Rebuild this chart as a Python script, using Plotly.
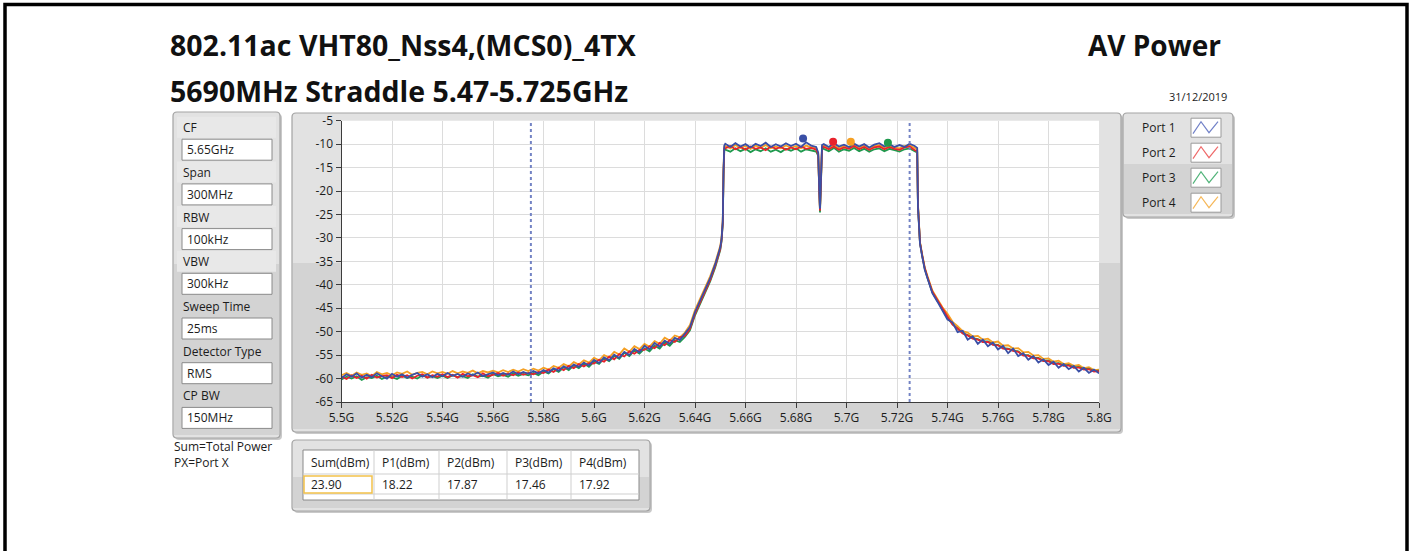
import plotly.graph_objects as go

# ------------------------------------------------------------------
#   Spectrum data (MHz / dBm)
# ------------------------------------------------------------------
freq_mhz = [
    # left floor
    5500, 5502, 5504, 5506, 5508, 5510, 5512, 5514, 5516, 5518,
    5520, 5522, 5524, 5526, 5528, 5530, 5532, 5534, 5536, 5538,
    5540, 5542, 5544, 5546, 5548, 5550, 5552, 5554, 5556, 5558,
    5560, 5562, 5564, 5566, 5568, 5570, 5572, 5574, 5576, 5578,
    5580, 5582, 5584, 5586, 5588, 5590, 5592, 5594, 5596, 5598,
    5600, 5602, 5604, 5606, 5608, 5610, 5612, 5614, 5616, 5618,
    5620, 5622, 5624, 5626, 5628, 5630, 5632, 5634, 5636,
    # rising edge
    5638, 5640, 5642, 5644, 5646, 5648, 5649, 5650, 5650.5, 5651.0, 5651.3, 5651.6,
    # top, lower half
    5652, 5654, 5656, 5658, 5660, 5662, 5664, 5666, 5668, 5670,
    5672, 5674, 5676, 5678, 5680, 5682, 5684, 5686, 5688,
    # notch
    5688.8, 5689.2, 5689.5, 5689.8, 5690.3,
    # top, upper half
    5691, 5693, 5695, 5697, 5699, 5701, 5703, 5705, 5707, 5709,
    5711, 5713, 5715, 5717, 5719, 5721, 5723, 5725, 5727,
    # falling edge
    5728.0, 5728.3, 5728.7, 5729.1, 5730, 5731, 5732, 5734, 5736, 5738,
    # right floor
    5740, 5742, 5744, 5746, 5748, 5750, 5752, 5754, 5756, 5758,
    5760, 5762, 5764, 5766, 5768, 5770, 5772, 5774, 5776, 5778,
    5780, 5782, 5784, 5786, 5788, 5790, 5792, 5794, 5796, 5798, 5800,
]

port1_dbm = [
    -59.9, -59.1, -59.6, -58.9, -59.8, -59.2, -59.7, -58.9, -59.5, -60.0,
    -59.0, -59.6, -59.1, -59.8, -59.2, -58.8, -59.6, -59.1, -59.7, -59.0,
    -59.5, -58.8, -59.4, -59.0, -59.6, -58.9, -59.3, -58.7, -59.5, -59.1,
    -58.7, -59.3, -58.8, -59.2, -58.5, -59.1, -58.6, -59.0, -58.4, -58.9,
    -58.2, -58.7, -57.8, -58.3, -57.4, -57.9, -57.0, -57.5, -56.6, -57.2,
    -56.0, -56.7, -55.5, -56.1, -54.9, -55.6, -54.3, -55.0, -53.7, -54.4,
    -53.0, -53.8, -52.4, -53.2, -51.9, -52.6, -51.3, -51.8, -50.5,
    -49.0, -45.8, -43.4, -41.0, -38.6, -35.6, -34.0, -32.0, -30.3, -26.5, -15.5, -10.3,
    -9.9, -10.6, -9.8, -10.5, -10.0, -10.7, -9.9, -10.4, -9.7, -10.6,
    -10.0, -10.5, -9.8, -10.4, -9.9, -10.6, -9.6, -10.3, -10.6,
    -11.8, -19.5, -23.8, -19.0, -10.2,
    -10.0, -10.6, -9.8, -10.5, -10.1, -10.6, -9.9, -10.5, -10.0, -10.7,
    -10.1, -9.8, -10.5, -10.0, -10.6, -10.2, -10.6, -9.9, -10.4,
    -10.8, -23.4, -28.3, -31.2, -34.0, -36.8, -38.5, -41.8, -43.6, -45.4,
    -47.4, -48.0, -50.1, -49.8, -51.7, -51.0, -52.6, -51.7, -53.1, -52.3,
    -53.8, -53.0, -54.6, -53.6, -55.2, -54.6, -56.0, -55.2, -56.6, -55.9,
    -57.1, -56.4, -57.7, -56.9, -58.0, -57.3, -58.5, -57.7, -58.8, -58.1, -58.9,
]

port2_dbm = [
    -59.6, -60.1, -59.3, -59.9, -59.4, -60.0, -59.2, -59.8, -59.5, -59.3,
    -59.9, -59.2, -59.7, -59.3, -60.0, -59.4, -59.1, -59.8, -59.3, -59.6,
    -59.1, -59.7, -59.2, -59.8, -59.0, -59.5, -59.3, -59.7, -58.9, -59.5,
    -59.2, -58.8, -59.4, -58.9, -59.3, -58.7, -59.2, -58.8, -59.1, -58.6,
    -58.8, -58.1, -58.6, -57.7, -58.2, -57.3, -57.8, -56.9, -57.4, -56.7,
    -56.8, -56.0, -56.4, -55.3, -55.9, -54.8, -55.3, -54.2, -54.7, -53.9,
    -53.9, -53.1, -53.5, -52.4, -52.9, -51.8, -52.2, -51.2, -50.9,
    -49.4, -46.2, -43.8, -41.4, -39.0, -36.0, -34.4, -32.4, -30.6, -26.8, -16.0, -10.9,
    -10.9, -10.4, -11.1, -10.6, -11.2, -10.5, -11.0, -10.7, -11.3, -10.5,
    -11.0, -10.6, -11.2, -10.7, -11.1, -10.5, -11.0, -10.8, -11.2,
    -12.2, -20.0, -24.2, -19.4, -10.7,
    -10.6, -11.1, -10.5, -11.2, -10.7, -11.0, -10.4, -11.1, -10.6, -11.2,
    -10.7, -10.5, -11.1, -10.6, -11.0, -11.2, -10.7, -10.5, -11.3,
    -11.5, -23.0, -28.0, -31.0, -33.8, -36.5, -38.3, -41.5, -43.3, -45.1,
    -46.8, -48.5, -49.3, -50.4, -50.8, -51.5, -51.7, -52.2, -52.2, -52.8,
    -52.9, -53.6, -53.7, -54.1, -54.3, -55.1, -55.1, -55.7, -55.7, -56.3,
    -56.3, -56.9, -56.8, -57.3, -57.2, -57.7, -57.6, -58.1, -58.0, -58.5, -58.4,
]

port3_dbm = [
    -60.2, -59.6, -60.0, -59.5, -60.3, -59.7, -59.9, -59.4, -60.1, -59.6,
    -59.7, -60.1, -59.4, -59.9, -59.6, -60.0, -59.3, -59.8, -59.5, -59.9,
    -59.4, -59.9, -59.3, -59.7, -59.5, -59.9, -59.1, -59.6, -59.4, -59.8,
    -59.0, -59.5, -59.2, -59.6, -58.9, -59.4, -59.0, -59.3, -58.8, -59.3,
    -58.5, -58.9, -58.0, -58.6, -57.6, -58.2, -57.2, -57.8, -56.8, -57.5,
    -56.4, -56.9, -55.7, -56.3, -55.2, -55.8, -54.5, -55.2, -54.0, -54.7,
    -53.6, -54.2, -53.0, -53.6, -52.3, -53.0, -51.8, -52.2, -51.1,
    -49.7, -46.5, -44.1, -41.7, -39.3, -36.3, -34.6, -32.6, -30.8, -27.0, -16.5, -11.3,
    -11.2, -11.6, -10.9, -11.5, -11.0, -11.7, -11.1, -11.5, -10.9, -11.6,
    -11.2, -11.7, -11.0, -11.4, -10.9, -11.6, -11.1, -11.4, -11.6,
    -12.5, -20.4, -24.6, -19.8, -11.0,
    -11.0, -11.5, -10.8, -11.6, -11.1, -11.4, -10.8, -11.5, -11.0, -11.6,
    -11.1, -10.9, -11.5, -11.0, -11.3, -11.6, -11.1, -10.9, -11.5,
    -11.8, -23.2, -28.1, -31.1, -33.9, -36.6, -38.4, -41.6, -43.4, -45.2,
    -47.1, -48.4, -49.4, -50.3, -50.7, -51.4, -51.6, -52.1, -52.1, -52.7,
    -52.8, -53.5, -53.6, -54.0, -54.2, -55.0, -55.0, -55.6, -55.6, -56.2,
    -56.2, -56.8, -56.7, -57.2, -57.1, -57.6, -57.5, -58.0, -57.9, -58.4, -58.3,
]

port4_dbm = [
    -59.3, -58.8, -59.4, -58.7, -59.2, -58.9, -59.5, -58.6, -59.1, -58.8,
    -59.3, -58.7, -59.0, -58.5, -59.2, -58.8, -58.6, -59.1, -58.5, -58.9,
    -58.6, -59.0, -58.4, -58.9, -58.5, -58.8, -58.3, -58.9, -58.4, -58.7,
    -58.3, -58.7, -58.2, -58.6, -58.1, -58.5, -58.0, -58.4, -57.9, -58.3,
    -57.7, -58.1, -57.3, -57.7, -56.9, -57.4, -56.5, -57.0, -56.1, -56.6,
    -55.6, -56.1, -55.0, -55.5, -54.3, -54.9, -53.6, -54.3, -53.1, -53.7,
    -52.6, -53.2, -52.0, -52.6, -51.3, -51.9, -50.8, -51.2, -50.2,
    -48.6, -45.4, -43.0, -40.6, -38.2, -35.3, -33.7, -31.7, -30.0, -26.2, -15.0, -10.6,
    -10.4, -10.9, -10.2, -10.8, -10.4, -11.0, -10.3, -10.8, -10.2, -10.9,
    -10.5, -10.9, -10.3, -10.8, -10.4, -10.9, -10.3, -10.7, -10.9,
    -12.0, -19.8, -24.0, -19.2, -10.5,
    -10.3, -10.8, -10.2, -10.9, -10.4, -10.7, -10.2, -10.8, -10.3, -10.9,
    -10.4, -10.2, -10.8, -10.3, -10.7, -10.9, -10.4, -10.2, -10.8,
    -11.2, -22.8, -27.8, -30.8, -33.6, -36.3, -38.0, -41.2, -43.0, -44.8,
    -46.2, -47.9, -48.8, -49.9, -50.2, -51.0, -50.9, -51.7, -51.5, -52.3,
    -52.1, -53.0, -52.9, -53.6, -53.5, -54.4, -54.3, -55.1, -55.0, -55.8,
    -55.7, -56.4, -56.2, -56.9, -56.7, -57.3, -57.1, -57.8, -57.6, -58.2, -58.1,
]

# peak markers per port
marker_mhz = [5682.8, 5694.7, 5716.4, 5701.7]
marker_dbm = [-8.8, -9.5, -9.7, -9.5]

port_names = ['Port 1', 'Port 2', 'Port 3', 'Port 4']
port_colors = ['#3a4fa6', '#e8222c', '#1f9a4e', '#f5a023']
icon_colors = ['#7282c8', '#ef6a6a', '#52b47a', '#f6b85a']

# settings panel
setting_labels = ['CF', 'Span', 'RBW', 'VBW', 'Sweep Time', 'Detector Type', 'CP BW']
setting_values = ['5.65GHz', '300MHz', '100kHz', '300kHz', '25ms', 'RMS', '150MHz']

# power table
table_headers = ['Sum(dBm)', 'P1(dBm)', 'P2(dBm)', 'P3(dBm)', 'P4(dBm)']
table_values = ['23.90', '18.22', '17.87', '17.46', '17.92']

cf_ghz = 5.65
cp_bw_ghz = 0.150

x_ticks = [5.5, 5.52, 5.54, 5.56, 5.58, 5.6, 5.62, 5.64, 5.66, 5.68,
           5.7, 5.72, 5.74, 5.76, 5.78, 5.8]
x_ticktext = ['5.5G', '5.52G', '5.54G', '5.56G', '5.58G', '5.6G', '5.62G', '5.64G',
              '5.66G', '5.68G', '5.7G', '5.72G', '5.74G', '5.76G', '5.78G', '5.8G']
y_ticks = [-65, -60, -55, -50, -45, -40, -35, -30, -25, -20, -15, -10, -5]

assert all(len(p) == len(freq_mhz) for p in (port1_dbm, port2_dbm, port3_dbm, port4_dbm))

#-------------------------------------------------------------------------------
#    helpers: pixel -> paper coordinates for the LabVIEW-like panel decoration
#-------------------------------------------------------------------------------
W, H = 1415, 551
UI_FONT = 'Open Sans'


def X(px):
    return px / W


def Y(py):
    return 1 - py / H


def rrect_path(x0, y0, x1, y1, r=4):
    return (f'M {X(x0 + r)},{Y(y0)} L {X(x1 - r)},{Y(y0)} '
            f'Q {X(x1)},{Y(y0)} {X(x1)},{Y(y0 + r)} L {X(x1)},{Y(y1 - r)} '
            f'Q {X(x1)},{Y(y1)} {X(x1 - r)},{Y(y1)} L {X(x0 + r)},{Y(y1)} '
            f'Q {X(x0)},{Y(y1)} {X(x0)},{Y(y1 - r)} L {X(x0)},{Y(y0 + r)} '
            f'Q {X(x0)},{Y(y0)} {X(x0 + r)},{Y(y0)} Z')


shapes = []
annotations = []


def rect(x0, y0, x1, y1, fill=None, line=None, width=1):
    shapes.append(dict(
        type='rect', xref='paper', yref='paper', layer='below',
        x0=X(x0), x1=X(x1), y0=Y(y1), y1=Y(y0),
        fillcolor=fill if fill else 'rgba(0,0,0,0)',
        line=dict(color=line if line else 'rgba(0,0,0,0)', width=width if line else 0),
    ))


def frame(x0, y0, x1, y1, split):
    # drop shadow, body, darker lower half, border
    shapes.append(dict(type='path', xref='paper', yref='paper', layer='below',
                       path=rrect_path(x0 + 2, y0 + 2, x1 + 2, y1 + 2),
                       fillcolor='#c9c9c9', line=dict(width=0)))
    shapes.append(dict(type='path', xref='paper', yref='paper', layer='below',
                       path=rrect_path(x0, y0, x1, y1),
                       fillcolor='#e2e2e2', line=dict(width=0)))
    rect(x0 + 1, split, x1 - 1, y1 - 3, fill='#d3d3d3')
    shapes.append(dict(type='path', xref='paper', yref='paper', layer='below',
                       path=rrect_path(x0, y0, x1, y1),
                       fillcolor='rgba(0,0,0,0)', line=dict(color='#a3a3a3', width=1.2)))


def text(x, y, s, size=12, anchor='left', bold=False, color='#1c1c1c', font=UI_FONT):
    annotations.append(dict(
        xref='paper', yref='paper', x=X(x), y=Y(y), text=s, showarrow=False,
        xanchor=anchor, yanchor='middle', align=anchor if anchor != 'center' else 'center',
        font=dict(family=font, size=size, color=color, weight='bold' if bold else 'normal'),
    ))


#-------------------------------------------------------------------------------
#    Panels
#-------------------------------------------------------------------------------
frame(173, 112, 280, 438, 264)      # settings
frame(292, 113, 1121, 432, 263)     # graph
frame(1123, 113, 1233, 217, 164)    # legend
frame(292, 440, 650, 511, 477)      # table

# white plot area
rect(341.5, 120.7, 1099, 402, fill='white')

# settings column
for i, (lab, val) in enumerate(zip(setting_labels, setting_values)):
    ly = 127.7 + i * 44.7
    if i < 4:
        rect(177, ly - 11, 276, ly + 10, fill='#e8e8e8')
    text(181, ly, lab)
    rect(182, ly + 11.5, 272, ly + 32.5, fill='white', line='#8a8a8a')
    text(185, ly + 22, val)

text(172, 454.5, 'Sum=Total Power<br>PX=Port X')

# legend panel
for i, (name, col) in enumerate(zip(port_names, icon_colors)):
    ly = 127.7 + i * 25
    text(1140, ly, name)
    rect(1191, ly - 9.5, 1221, ly + 9.5, fill='white', line='#9a9a9a')
    pts = [(1193, ly + 6), (1201, ly - 6), (1209, ly + 5), (1218, ly - 6)]
    shapes.append(dict(type='path', xref='paper', yref='paper', layer='above',
                       path='M ' + ' L '.join(f'{X(a)},{Y(b)}' for a, b in pts),
                       line=dict(color=col, width=1.2)))

# power table
col_x = [303, 374, 439, 507, 571, 639]
rect(303, 450, 639, 500, fill='white', line='#8a8a8a')
for cx in col_x[1:-1]:
    shapes.append(dict(type='line', xref='paper', yref='paper', layer='below',
                       x0=X(cx), x1=X(cx), y0=Y(450), y1=Y(500),
                       line=dict(color='#cfcfcf', width=1)))
for ry in (474, 494):
    shapes.append(dict(type='line', xref='paper', yref='paper', layer='below',
                       x0=X(303), x1=X(639), y0=Y(ry), y1=Y(ry),
                       line=dict(color='#cfcfcf', width=1)))
rect(304, 476, 372, 493, line='#f2c14a', width=1.5)
for cx, h, v in zip(col_x, table_headers, table_values):
    text(cx + 6, 462, h)
    text(cx + 6, 484.5, v)

# titles
text(168, 45, '802.11ac VHT80_Nss4,(MCS0)_4TX', size=28.5, bold=True, color='#111')
text(168, 91, '5690MHz Straddle 5.47-5.725GHz', size=28.5, bold=True, color='#111')
text(1223, 45, 'AV Power', size=28, bold=True, anchor='right', color='#111')
text(1229, 96, '31/12/2019', size=11, anchor='right')

# outer black border
shapes.append(dict(type='rect', xref='paper', yref='paper', layer='above',
                   x0=X(5), x1=X(1407), y0=Y(620), y1=Y(4.5),
                   line=dict(color='black', width=3.5), fillcolor='rgba(0,0,0,0)'))

#-------------------------------------------------------------------------------
#    Traces
#-------------------------------------------------------------------------------
freq_ghz = [f / 1000 for f in freq_mhz]
levels = [port1_dbm, port2_dbm, port3_dbm, port4_dbm]

fig = go.Figure()
# draw port 4 first so port 1 (blue) ends on top, as in the original
for i in (3, 2, 1, 0):
    fig.add_trace(go.Scatter(
        x=freq_ghz, y=levels[i], mode='lines', name=port_names[i],
        line=dict(color=port_colors[i], width=1.8),
    ))
for i in (3, 2, 1, 0):
    fig.add_trace(go.Scatter(
        x=[marker_mhz[i] / 1000], y=[marker_dbm[i]], mode='markers',
        marker=dict(color=port_colors[i], size=8), showlegend=False,
    ))

# channel power band edges
for edge in (cf_ghz - cp_bw_ghz / 2, cf_ghz + cp_bw_ghz / 2):
    fig.add_vline(x=edge, line=dict(color='#7383c4', width=2, dash='dot'))

fig.update_layout(
    width=W, height=H,
    margin=dict(l=0, r=0, t=0, b=0, pad=0, autoexpand=False),
    paper_bgcolor='white',
    plot_bgcolor='rgba(0,0,0,0)',
    showlegend=False,
    hovermode=False,
    shapes=list(fig.layout.shapes) + shapes,
    annotations=annotations,
    font=dict(family=UI_FONT, size=12, color='#1c1c1c'),
    xaxis=dict(
        domain=[X(341.5), X(1099)], range=[5.5, 5.8], automargin=False,
        tickvals=x_ticks, ticktext=x_ticktext,
        showgrid=True, gridcolor='#dcdcdc', gridwidth=1,
        showline=True, linecolor='#3c3c3c', linewidth=1,
        ticks='outside', ticklen=5, tickcolor='#3c3c3c',
        zeroline=False, fixedrange=True,
        tickfont=dict(family=UI_FONT, size=12, color='#1c1c1c'),
    ),
    yaxis=dict(
        domain=[Y(402), Y(120.7)], range=[-65, -5], automargin=False,
        tickvals=y_ticks, ticktext=[f'-{abs(v)}' for v in y_ticks],
        showgrid=True, gridcolor='#dcdcdc', gridwidth=1,
        showline=True, linecolor='#3c3c3c', linewidth=1,
        ticks='outside', ticklen=5, tickcolor='#3c3c3c',
        zeroline=False, fixedrange=True,
        tickfont=dict(family=UI_FONT, size=12, color='#1c1c1c'),
    ),
)

# the page's default 8px body margin would shift the whole figure
fig.write_html('out.html', config={'displayModeBar': False},
               post_script="document.body.style.margin = '0';")
